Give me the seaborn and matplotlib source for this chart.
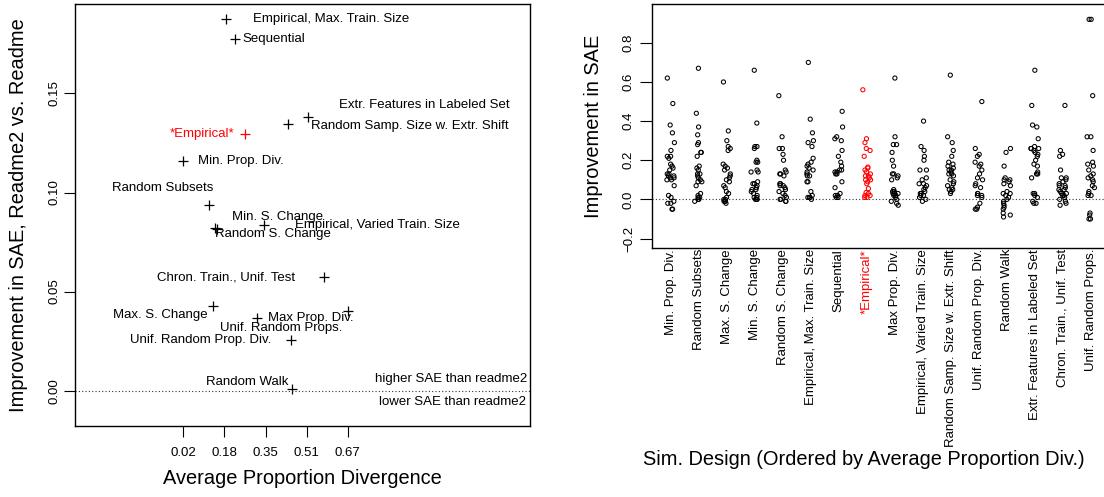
import numpy as np
import pandas as pd
import matplotlib
matplotlib.use("Agg")
import matplotlib.pyplot as plt
import seaborn as sns


DESIGNS = [
    "Min. Prop. Div.", "Random Subsets", "Max. S. Change", "Min. S. Change",
    "Random S. Change", "Empirical, Max. Train. Size", "Sequential", "*Empirical*",
    "Max Prop. Div.", "Empirical, Varied Train. Size", "Random Samp. Size w. Extr. Shift",
    "Unif. Random Prop. Div.", "Random Walk", "Extr. Features in Labeled Set",
    "Chron. Train., Unif. Test", "Unif. Random Props.",
]
HIGHLIGHT = "*Empirical*"

# left panel: one point per design
avg_prop_div = [0.021, 0.123, 0.136, 0.147, 0.153, 0.190, 0.224, 0.264,
                0.310, 0.338, 0.433, 0.444, 0.449, 0.512, 0.574, 0.670]
sae_improvement = [0.1157, 0.0936, 0.0428, 0.0823, 0.0818, 0.1874, 0.1773, 0.1295,
                   0.0369, 0.0838, 0.1345, 0.0256, 0.0010, 0.1379, 0.0573, 0.0400]
x_tick_labels = ["0.02", "0.18", "0.35", "0.51", "0.67"]

# right panel: improvement per simulation run
runs = {
    "Min. Prop. Div.": [0.62, 0.49, 0.38, 0.34, 0.29, 0.25, 0.22, 0.22, 0.21, 0.18, 0.17, 0.16, 0.15,
                        0.13, 0.13, 0.12, 0.12, 0.11, 0.11, 0.10, 0.10, 0.07, 0.02, 0.01, -0.01, -0.02,
                        -0.02, -0.05, -0.05],
    "Random Subsets": [0.67, 0.44, 0.37, 0.33, 0.29, 0.28, 0.24, 0.24, 0.22, 0.17, 0.16, 0.15, 0.13,
                       0.13, 0.12, 0.11, 0.10, 0.09, 0.09, 0.07, 0.03, 0.02, 0.01, 0.01, 0.00, 0.00, -0.01],
    "Max. S. Change": [0.60, 0.35, 0.30, 0.27, 0.26, 0.25, 0.18, 0.17, 0.16, 0.15, 0.13, 0.12, 0.11,
                       0.10, 0.09, 0.07, 0.06, 0.04, 0.03, 0.01, 0.00, 0.00, -0.01, -0.01, -0.01, -0.02],
    "Min. S. Change": [0.66, 0.39, 0.27, 0.27, 0.26, 0.20, 0.19, 0.19, 0.15, 0.14, 0.14, 0.09, 0.08,
                       0.08, 0.07, 0.06, 0.05, 0.05, 0.04, 0.03, 0.02, 0.01, 0.00, 0.00, 0.00, 0.01],
    "Random S. Change": [0.53, 0.32, 0.26, 0.26, 0.23, 0.20, 0.15, 0.14, 0.13, 0.13, 0.12, 0.08, 0.08,
                         0.07, 0.07, 0.06, 0.05, 0.04, 0.03, 0.02, 0.01, 0.00, 0.00, -0.01, -0.01],
    "Empirical, Max. Train. Size": [0.70, 0.41, 0.34, 0.30, 0.29, 0.27, 0.21, 0.19, 0.18, 0.17, 0.16,
                                    0.15, 0.14, 0.13, 0.12, 0.12, 0.09, 0.09, 0.04, 0.02, 0.01, 0.01,
                                    0.01, 0.00],
    "Sequential": [0.45, 0.37, 0.32, 0.31, 0.30, 0.25, 0.22, 0.19, 0.17, 0.15, 0.15, 0.14, 0.14, 0.13,
                   0.13, 0.09, 0.06, 0.03, 0.02, 0.02, 0.01, 0.01],
    "*Empirical*": [0.56, 0.31, 0.29, 0.26, 0.25, 0.22, 0.165, 0.16, 0.15, 0.14, 0.13, 0.12, 0.12,
                    0.11, 0.10, 0.10, 0.09, 0.08, 0.055, 0.035, 0.03, 0.02, 0.02, 0.01, 0.01],
    "Max Prop. Div.": [0.62, 0.32, 0.28, 0.28, 0.24, 0.20, 0.17, 0.13, 0.13, 0.12, 0.11, 0.10, 0.05,
                       0.04, 0.04, 0.03, 0.03, 0.03, 0.02, 0.02, 0.01, 0.00, -0.01, -0.02, -0.03],
    "Empirical, Varied Train. Size": [0.40, 0.27, 0.25, 0.22, 0.20, 0.15, 0.15, 0.11, 0.10, 0.08, 0.08,
                                      0.07, 0.06, 0.05, 0.04, 0.03, 0.03, 0.02, 0.02, 0.01, 0.00, -0.01],
    "Random Samp. Size w. Extr. Shift": [0.635, 0.32, 0.29, 0.25, 0.22, 0.19, 0.18, 0.17, 0.16, 0.15,
                                         0.15, 0.14, 0.13, 0.13, 0.12, 0.10, 0.09, 0.08, 0.07, 0.06,
                                         0.05, 0.05, 0.04, 0.03],
    "Unif. Random Prop. Div.": [0.50, 0.26, 0.23, 0.22, 0.19, 0.18, 0.17, 0.15, 0.13, 0.11, 0.10, 0.08,
                                0.07, 0.06, 0.03, 0.03, 0.02, 0.02, 0.01, -0.02, -0.04, -0.05, -0.05],
    "Random Walk": [0.26, 0.24, 0.17, 0.11, 0.10, 0.10, 0.09, 0.08, 0.07, 0.04, 0.03, 0.03, 0.02, 0.01,
                    0.00, -0.01, -0.02, -0.03, -0.04, -0.05, -0.07, -0.08, -0.09],
    "Extr. Features in Labeled Set": [0.66, 0.48, 0.38, 0.37, 0.31, 0.27, 0.26, 0.26, 0.26, 0.25, 0.24,
                                      0.23, 0.22, 0.20, 0.18, 0.17, 0.14, 0.13, 0.13, 0.11, 0.03, 0.03,
                                      0.02, 0.01, -0.01, -0.02, -0.02],
    "Chron. Train., Unif. Test": [0.48, 0.25, 0.23, 0.22, 0.15, 0.11, 0.11, 0.10, 0.09, 0.08, 0.07, 0.07,
                                  0.06, 0.05, 0.05, 0.04, 0.03, 0.03, 0.02, 0.02, 0.01, 0.00, -0.01,
                                  -0.02, -0.03],
    "Unif. Random Props.": [0.92, 0.92, 0.53, 0.32, 0.32, 0.25, 0.19, 0.18, 0.17, 0.15, 0.13, 0.12, 0.11,
                            0.10, 0.09, 0.07, 0.06, 0.04, 0.03, 0.02, 0.02, -0.07, -0.08, -0.10, -0.10],
}

# label placement for the left panel (pixel offsets from the point, alignment)
label_offsets = [(15, 0, "left"), (4, -17, "right"), (-5, 9, "right"), (17, -11, "left"),
                 (-2, 5, "left"), (27, 0, "left"), (8, 0, "left"), (-11, 0, "right"),
                 (11, 0, "left"), (31, 0, "left"), (23, 2, "left"), (-19, 0, "right"),
                 (-3, -7, "right"), (31, -12, "left"), (-28, 0, "right"), (-5, 17, "right")]


def build_frames():
    summary = pd.DataFrame({"Design": DESIGNS, "Divergence": avg_prop_div,
                            "Improvement": sae_improvement})
    summary["Highlight"] = summary["Design"] == HIGHLIGHT
    rows = [{"Design": d, "Improvement": v} for d in DESIGNS for v in runs[d]]
    return summary, pd.DataFrame(rows)


summary, runs_df = build_frames()

sns.set_style("ticks")
plt.rcParams["font.family"] = ["Liberation Sans", "DejaVu Sans"]
plt.rcParams.update({"axes.linewidth": 1.0, "text.color": "black", "axes.labelcolor": "black",
                     "xtick.color": "black", "ytick.color": "black", "axes.edgecolor": "black"})
np.random.seed(7)

W, H = 1104, 497
fig = plt.figure(figsize=(W / 100, H / 100), dpi=100)
TICK = 9.5
LAB = 14.4

# ---- left panel
ax1 = fig.add_axes([75.4 / W, (H - 425.7) / H, 454.2 / W, 421.4 / H])
for flag, col in [(False, "black"), (True, "red")]:
    sns.scatterplot(data=summary[summary["Highlight"] == flag], x="Divergence", y="Improvement",
                    marker="+", s=45, color=col, linewidth=0.9, ax=ax1, legend=False)
for i, row in summary.iterrows():
    dx, dy, ha = label_offsets[i]
    ax1.annotate(row["Design"], xy=(row["Divergence"], row["Improvement"]),
                 xytext=(dx, -dy), textcoords="offset pixels", ha=ha, va="center",
                 fontsize=TICK, color="red" if row["Highlight"] else "black")
ax1.axhline(0, ls=(0, (1, 2)), color="#333333", lw=0.8)
ax1.text(0.995, 0.0058, "higher SAE than readme2", transform=ax1.get_yaxis_transform(),
         ha="right", va="center", fontsize=TICK)
ax1.text(0.993, -0.0056, "lower SAE than readme2", transform=ax1.get_yaxis_transform(),
         ha="right", va="center", fontsize=TICK)
ax1.set_xlim(-0.405, 1.387)
ax1.set_ylim(-0.0177, 0.195)
ax1.set_xticks(np.linspace(min(avg_prop_div), max(avg_prop_div), 5))
ax1.set_xticklabels(x_tick_labels)
ax1.set_yticks([0.0, 0.05, 0.10, 0.15])
ax1.set_yticklabels(["0.00", "0.05", "0.10", "0.15"], rotation=90, va="center")
ax1.tick_params(axis="both", labelsize=TICK, length=8, width=0.8)
ax1.tick_params(axis="y", pad=3)
ax1.tick_params(axis="x", pad=7.5)
ax1.set_xlabel("Average Proportion Divergence", fontsize=LAB, va="center")
ax1.xaxis.set_label_coords(0.5, -0.126)
ax1.set_ylabel("Improvement in SAE, Readme2 vs. Readme", fontsize=LAB, va="center")
ax1.yaxis.set_label_coords(-0.126, 0.5)

# ---- right panel
ax2 = fig.add_axes([651.6 / W, (H - 247.7) / H, 456 / W, 243.4 / H])
for flag, col in [(False, "black"), (True, "red")]:
    sub = runs_df[(runs_df["Design"] == HIGHLIGHT) == flag]
    sns.stripplot(data=sub, x="Design", y="Improvement", order=DESIGNS, jitter=0.14,
                  size=3.0, facecolor="none", edgecolor=col, linewidth=0.75, ax=ax2)
ax2.axhline(0, ls=(0, (1, 2)), color="#333333", lw=0.8, zorder=1)
ax2.set_xlim(-0.68, 15.6)
ax2.set_ylim(-0.247, 0.997)
ax2.set_xticks(range(len(DESIGNS)))
ax2.set_xticklabels(DESIGNS, rotation=90, fontsize=TICK)
ax2.get_xticklabels()[DESIGNS.index(HIGHLIGHT)].set_color("red")
ax2.tick_params(axis="x", length=0, pad=1)
ax2.set_yticks([-0.2, 0.0, 0.2, 0.4, 0.6, 0.8])
ax2.set_yticklabels(["\u22120.2", "0.0", "0.2", "0.4", "0.6", "0.8"], rotation=90, va="center")
ax2.tick_params(axis="y", labelsize=TICK, length=9, width=0.8, pad=3)
ax2.set_xlabel("Sim. Design (Ordered by Average Proportion Div.)", fontsize=LAB, va="center")
ax2.xaxis.set_label_coords(0.466, -0.872)
ax2.set_ylabel("Improvement in SAE", fontsize=LAB, va="center")
ax2.yaxis.set_label_coords(-0.127, 0.5)

for ax in (ax1, ax2):
    for sp in ax.spines.values():
        sp.set_visible(True)
        sp.set_color("black")

fig.savefig("out.png", dpi=100)
